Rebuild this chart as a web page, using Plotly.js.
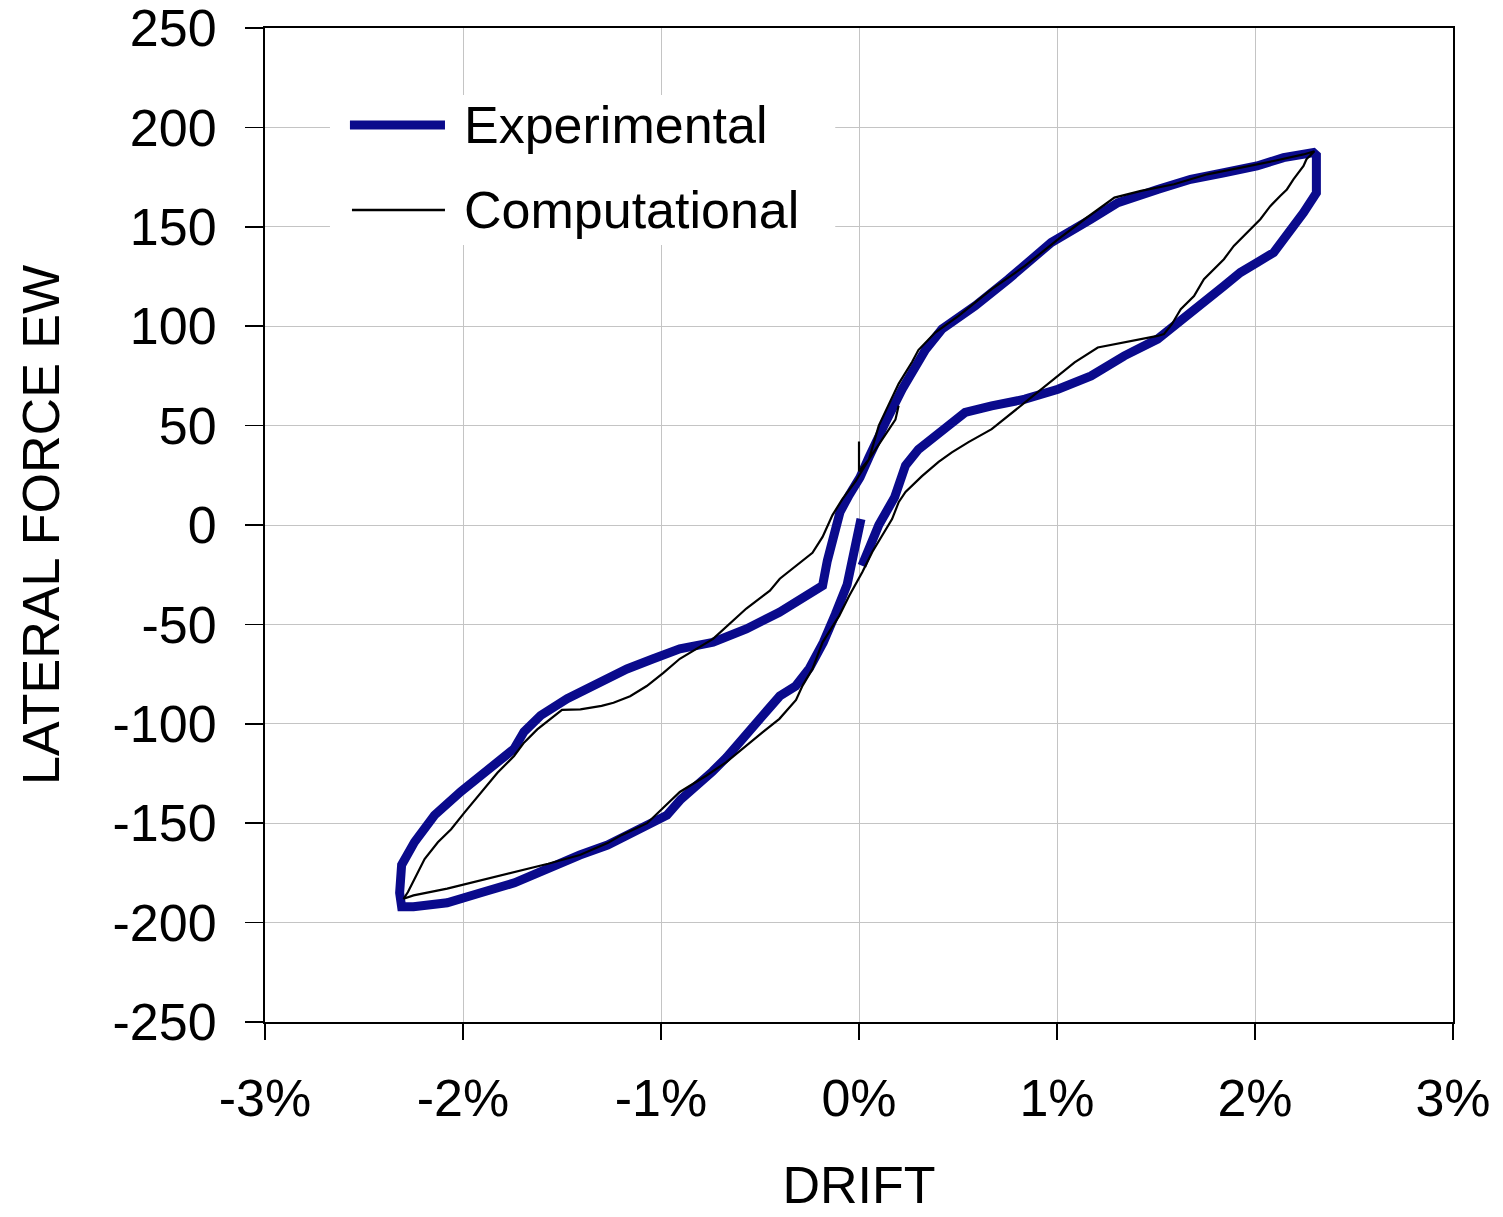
<!DOCTYPE html>
<html>
<head>
<meta charset="utf-8">
<script src="https://cdn.plot.ly/plotly-3.0.1.min.js"></script>
<style>html,body{margin:0;padding:0;background:#fff;}#chart{width:1503px;height:1217px;}</style>
</head>
<body>
<div id="chart"></div>
<script>
// Experimental hysteresis loop (drift %, lateral force)
const expDrift = [0.01,-0.01,-0.03,-0.06,-0.12,-0.18,-0.25,-0.32,-0.40,-0.47,-0.57,-0.67,-0.74,-0.82,-0.90,-0.97,-1.07,-1.17,-1.27,-1.41,-1.57,-1.74,-1.91,-2.08,-2.25,-2.31,
  -2.32,-2.31,
  -2.245,-2.144,-2.01,-1.876,-1.742,-1.692,-1.608,-1.474,-1.34,-1.172,-1.039,-0.905,-0.737,-0.569,-0.402,-0.235,-0.184,-0.16,-0.13,-0.096,-0.05,0.005,0.05,0.09,0.134,0.218,0.268,0.335,0.419,0.586,0.754,0.971,1.172,1.307,1.508,1.675,1.843,2.01,2.144,2.295,
  2.31,2.31,
  2.245,2.178,2.094,2.01,1.926,1.843,1.759,1.675,1.592,1.508,1.34,1.172,1.005,0.838,0.67,0.536,0.44,0.30,0.235,0.18,0.10,0.05,0.015];
const expForce = [3,-8,-18,-30,-45,-59,-72,-81,-86,-94,-107,-117,-124,-131,-138,-146,-151,-156,-161,-166,-173,-180,-185,-190,-192,-192,
  -185,-171,
  -159.5,-146,-134,-124,-112.6,-104,-95.8,-87.4,-80.8,-72.4,-67.3,-62.3,-59,-52.3,-43.9,-33.8,-30.5,-18,-4,6.5,15,24,34,43,51.6,68.3,76,88,98.5,110.2,123.6,142.1,153.8,162.1,168.8,173.9,177.2,180.6,184.8,187.3,
  186,167,
  157.1,148.7,137,132,127,120.2,113.6,106.9,100.2,93.5,85.1,75,68.3,63.3,59.9,56.6,49,38,30,14,0,-12,-20.5];

// Computational hysteresis loop (drift %, lateral force)
const compDrift = [0.0,0.0,0.05,0.10,
  0.20,0.268,0.30,0.385,0.503,0.67,0.838,1.005,1.139,1.29,1.424,1.591,1.759,1.926,2.094,2.245,2.30,
  2.26,2.245,2.194,2.161,2.127,2.077,2.027,1.993,1.943,1.893,1.843,1.792,1.742,1.692,1.658,1.625,1.58,1.54,1.508,1.424,1.34,1.256,1.206,1.089,1.005,0.938,0.838,0.754,0.67,0.553,0.469,0.402,0.318,0.235,0.201,0.167,0.117,0.067,0.017,-0.05,-0.10,-0.15,-0.184,-0.235,-0.285,-0.318,-0.402,-0.486,-0.569,-0.67,-0.77,-0.905,-1.07,-1.2,-1.27,-1.41,-1.57,-1.74,-1.91,-2.08,-2.25,-2.30,
  -2.278,-2.245,-2.194,-2.127,-2.06,-1.993,-1.91,-1.826,-1.742,-1.692,-1.625,-1.541,-1.50,-1.407,-1.30,-1.24,-1.156,-1.072,-0.988,-0.905,-0.737,-0.569,-0.45,-0.40,-0.30,-0.235,-0.184,-0.134,-0.084,-0.017,0.05,0.117,0.184,0.20];
const compForce = [42,27,33,50,
  71,82,88,96.8,105.2,118.6,130.3,143.7,153.8,164.7,168.1,171.4,176.4,179.7,183.1,186.4,188,
  184,180.6,173.9,168.8,165.5,160.4,153.8,150.4,145.4,140.4,133.7,128.6,123.6,115.2,111.9,108.5,101,96,95.1,93.5,91.8,90.1,89.3,81.8,75,70,61.7,54.9,48.2,41.7,36.5,31.7,24.6,16.6,11.6,3,-5.5,-13.6,-23.6,-35.7,-45.7,-53.8,-59,-72.4,-80.8,-88,-97.5,-104.2,-110.9,-119.3,-126,-134.3,-150,-156,-160,-166,-170.4,-174.5,-178.7,-182.9,-186.3,-188,
  -184.6,-178,-168,-159.6,-153,-144.7,-134.6,-124.6,-116.2,-109.5,-102.8,-96.1,-93,-92.7,-91,-89.4,-86.1,-81,-74.4,-67.3,-57.3,-42,-33,-27,-19,-14,-6,5,13,22,33,43,53,60];

const seriesNames = ['Experimental', 'Computational'];
const xTickVals = [-3,-2,-1,0,1,2,3];
const yTickVals = [-250,-200,-150,-100,-50,0,50,100,150,200,250];

const FONT = 'Liberation Sans, Arial, Helvetica, sans-serif';
const BLUE = '#0a0a8c';

const traces = [
  {x: expDrift, y: expForce, mode: 'lines', name: seriesNames[0],
   line: {color: BLUE, width: 9}, showlegend: false},
  {x: compDrift, y: compForce, mode: 'lines', name: seriesNames[1],
   line: {color: '#000000', width: 2.2}, showlegend: false}
];

const layout = {
  width: 1503, height: 1217,
  margin: {l: 265, r: 50, t: 28, b: 195},
  paper_bgcolor: '#ffffff', plot_bgcolor: '#ffffff',
  font: {family: FONT, size: 52, color: '#000'},
  showlegend: false,
  xaxis: {
    range: [-3, 3], tickvals: xTickVals, ticktext: xTickVals.map(v => String(v) + '%'),
    showgrid: true, gridcolor: '#c4c4c4', gridwidth: 1, zeroline: false,
    showline: true, linecolor: '#000', linewidth: 2, mirror: true,
    ticks: 'outside', ticklen: 16, tickwidth: 1.5, tickcolor: '#000',
    ticklabelstandoff: 14, ticklabeloverflow: 'allow',
    title: {text: 'DRIFT', font: {family: FONT, size: 52, color: '#000'}, standoff: 40}
  },
  yaxis: {
    range: [-250, 250], tickvals: yTickVals, ticktext: yTickVals.map(v => String(v)),
    showgrid: true, gridcolor: '#c4c4c4', gridwidth: 1, zeroline: false,
    showline: true, linecolor: '#000', linewidth: 2, mirror: true,
    ticks: 'outside', ticklen: 18, tickwidth: 1.5, tickcolor: '#000',
    ticklabelstandoff: 18, ticklabeloverflow: 'allow',
    title: {text: 'LATERAL FORCE EW', font: {family: FONT, size: 52, color: '#000'}, standoff: 36}
  },
  shapes: [
    {type: 'rect', xref: 'paper', yref: 'paper', x0: 0.0547, x1: 0.48, y0: 0.7817, y1: 0.9326,
     fillcolor: '#ffffff', line: {width: 0}, layer: 'above'},
    {type: 'line', xref: 'paper', yref: 'paper', x0: 0.0715, x1: 0.1515, y0: 0.9024, y1: 0.9024,
     line: {color: BLUE, width: 9}, layer: 'above'},
    {type: 'line', xref: 'paper', yref: 'paper', x0: 0.0732, x1: 0.1515, y0: 0.8169, y1: 0.8169,
     line: {color: '#000', width: 2.5}, layer: 'above'}
  ],
  annotations: [
    {xref: 'paper', yref: 'paper', x: 0.1658, y: 0.9024, xanchor: 'left', yanchor: 'middle',
     text: seriesNames[0], showarrow: false, font: {family: FONT, size: 52, color: '#000'}},
    {xref: 'paper', yref: 'paper', x: 0.1658, y: 0.8169, xanchor: 'left', yanchor: 'middle',
     text: seriesNames[1], showarrow: false, font: {family: FONT, size: 52, color: '#000'}}
  ]
};

Plotly.newPlot('chart', traces, layout, {displayModeBar: false, staticPlot: true});
</script>
</body>
</html>
